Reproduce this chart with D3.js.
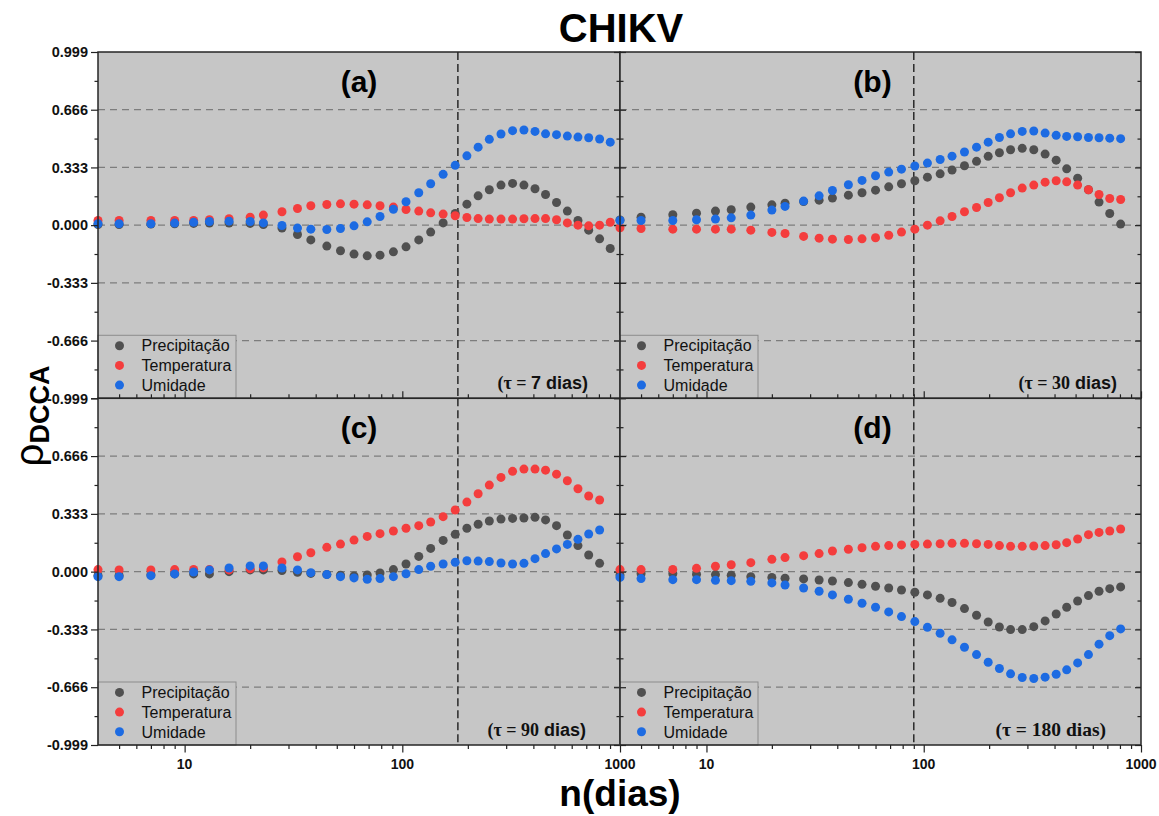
<!DOCTYPE html>
<html>
<head>
<meta charset="utf-8">
<script src="https://cdn.jsdelivr.net/npm/d3@7"></script>
<style>
  body { margin: 0; background: #ffffff; }
  svg { display: block; }
  text { font-family: "Liberation Sans", Arial, Helvetica, sans-serif; }
</style>
</head>
<body>
<svg id="chart" width="1159" height="816"></svg>
<script>
// ---- window sizes n (days) ----
const nDias  = [4, 5, 7, 9, 11, 13, 16, 20, 23, 28, 33, 38, 45, 52, 60, 69, 79, 91, 104, 119,
                135, 154, 175, 198, 223, 251, 284, 321, 362, 407, 455, 511, 573, 641, 718, 806];
const nDiasA = [4, 5, 7, 9, 11, 13, 16, 20, 23, 28, 33, 38, 45, 52, 60, 69, 79, 91, 104, 119,
                135, 154, 175, 198, 223, 251, 284, 321, 362, 407, 455, 511, 573, 641, 718, 806, 902];

// ---- rho_DCCA, tau = 7 days ----
const precipA = [0.004, 0.004, 0.006, 0.008, 0.010, 0.012, 0.012, 0.010, 0.004, -0.017, -0.054, -0.085,
                 -0.121, -0.148, -0.167, -0.177, -0.173, -0.154, -0.125, -0.085, -0.040, 0.013, 0.067,
                 0.121, 0.169, 0.204, 0.231, 0.241, 0.231, 0.210, 0.177, 0.131, 0.081, 0.027, -0.029,
                 -0.079, -0.135];
const tempA   = [0.027, 0.027, 0.027, 0.027, 0.027, 0.031, 0.037, 0.046, 0.058, 0.077, 0.096, 0.112,
                 0.119, 0.123, 0.121, 0.117, 0.112, 0.104, 0.090, 0.081, 0.071, 0.064, 0.054, 0.044,
                 0.038, 0.035, 0.035, 0.035, 0.037, 0.038, 0.038, 0.031, 0.013, 0.000, -0.004, 0.000,
                 0.017];
const umidA   = [0.008, 0.008, 0.008, 0.012, 0.017, 0.021, 0.023, 0.021, 0.013, -0.002, -0.017, -0.023,
                 -0.025, -0.019, -0.004, 0.019, 0.050, 0.092, 0.135, 0.187, 0.239, 0.293, 0.345, 0.400,
                 0.450, 0.495, 0.526, 0.545, 0.549, 0.541, 0.527, 0.522, 0.514, 0.508, 0.504, 0.497,
                 0.479];

// ---- rho_DCCA, tau = 30 days ----
const precipB = [0.030, 0.046, 0.060, 0.069, 0.081, 0.089, 0.104, 0.117, 0.127, 0.136, 0.144, 0.156,
                 0.173, 0.187, 0.202, 0.221, 0.239, 0.256, 0.277, 0.296, 0.318, 0.343, 0.368, 0.397,
                 0.418, 0.435, 0.443, 0.435, 0.410, 0.375, 0.325, 0.271, 0.204, 0.133, 0.067, 0.006];
const tempB   = [-0.015, -0.019, -0.023, -0.023, -0.023, -0.023, -0.029, -0.042, -0.048, -0.065, -0.075,
                 -0.081, -0.083, -0.079, -0.073, -0.058, -0.040, -0.023, 0.000, 0.025, 0.050, 0.077,
                 0.102, 0.131, 0.158, 0.187, 0.214, 0.231, 0.248, 0.256, 0.250, 0.231, 0.204, 0.177,
                 0.154, 0.148];
const umidB   = [0.027, 0.027, 0.027, 0.031, 0.035, 0.042, 0.058, 0.087, 0.108, 0.139, 0.169, 0.200,
                 0.233, 0.258, 0.285, 0.306, 0.323, 0.341, 0.358, 0.379, 0.398, 0.422, 0.450, 0.479,
                 0.506, 0.527, 0.541, 0.543, 0.531, 0.518, 0.512, 0.510, 0.506, 0.504, 0.502, 0.499];

// ---- rho_DCCA, tau = 90 days ----
const precipC = [-0.022, -0.022, -0.018, -0.013, -0.013, -0.013, 0.000, 0.010, 0.010, 0.006, -0.004,
                 -0.010, -0.016, -0.021, -0.025, -0.019, -0.008, 0.012, 0.044, 0.088, 0.134, 0.180,
                 0.215, 0.250, 0.273, 0.292, 0.303, 0.307, 0.309, 0.313, 0.298, 0.265, 0.211, 0.150,
                 0.096, 0.048];
const tempC   = [0.012, 0.010, 0.010, 0.012, 0.013, 0.012, 0.010, 0.017, 0.022, 0.056, 0.086, 0.109,
                 0.140, 0.159, 0.182, 0.203, 0.219, 0.234, 0.250, 0.265, 0.286, 0.317, 0.355, 0.401,
                 0.449, 0.499, 0.543, 0.578, 0.591, 0.591, 0.585, 0.562, 0.524, 0.478, 0.436, 0.413];
const umidC   = [-0.029, -0.029, -0.023, -0.013, -0.002, 0.010, 0.021, 0.033, 0.033, 0.021, 0.010,
                 -0.006, -0.017, -0.029, -0.036, -0.044, -0.040, -0.029, -0.012, 0.012, 0.031, 0.044,
                 0.054, 0.063, 0.061, 0.058, 0.050, 0.044, 0.048, 0.075, 0.104, 0.131, 0.157, 0.186,
                 0.217, 0.240];

// ---- rho_DCCA, tau = 180 days ----
const precipD = [-0.020, -0.012, -0.012, -0.015, -0.017, -0.021, -0.029, -0.033, -0.038, -0.042, -0.048,
                 -0.054, -0.063, -0.073, -0.084, -0.094, -0.106, -0.119, -0.134, -0.154, -0.178, -0.213,
                 -0.251, -0.290, -0.319, -0.334, -0.334, -0.317, -0.284, -0.244, -0.205, -0.169, -0.138,
                 -0.113, -0.098, -0.088];
const tempD   = [0.012, 0.012, 0.013, 0.019, 0.031, 0.040, 0.052, 0.071, 0.081, 0.092, 0.104, 0.119,
                 0.129, 0.138, 0.146, 0.150, 0.154, 0.157, 0.159, 0.161, 0.163, 0.163, 0.161, 0.157,
                 0.150, 0.146, 0.146, 0.148, 0.150, 0.155, 0.167, 0.188, 0.213, 0.226, 0.234, 0.246];
const umidD   = [-0.033, -0.040, -0.046, -0.046, -0.050, -0.052, -0.056, -0.065, -0.077, -0.094, -0.113,
                 -0.134, -0.159, -0.182, -0.205, -0.232, -0.259, -0.288, -0.321, -0.355, -0.393, -0.436,
                 -0.478, -0.522, -0.558, -0.589, -0.610, -0.616, -0.608, -0.591, -0.566, -0.526, -0.478,
                 -0.418, -0.369, -0.330];

// ---- labels and axis ticks ----
const seriesNames = ["Precipitação", "Temperatura", "Umidade"];
const panelLetters = ["(a)", "(b)", "(c)", "(d)"];
const tauValues = ["7", "30", "90", "180"];
const markerLines = [180, 90, 180, 90];
const yTicks = [-0.999, -0.666, -0.333, 0, 0.333, 0.666, 0.999];
const yMinorTicks = [-0.8325, -0.4995, -0.1665, 0.1665, 0.4995, 0.8325];
const xTicks = [10, 100, 1000];
const xDomain = [4, 1000];
const yDomain = [-0.999, 0.999];

// ---- layout ----
const colors = ["#505050", "#f43d3d", "#1d6be2"];
const bg = "#c6c6c6";
const colX = [[98, 620], [620, 1141]];
const rowY = [[52, 398.3], [398.3, 745]];

const svg = d3.select("#chart");
const fmt = v => v.toFixed(3);

const panels = [
  { n: nDiasA, series: [precipA, tempA, umidA], col: 0, row: 0, tauEnd: 588, tauSize: 18, tauSerifNumber: false, tauSerifWord: false },
  { n: nDias,  series: [precipB, tempB, umidB], col: 1, row: 0, tauEnd: 1117, tauSize: 18, tauSerifNumber: true, tauSerifWord: false },
  { n: nDias,  series: [precipC, tempC, umidC], col: 0, row: 1, tauEnd: 586, tauSize: 18, tauSerifNumber: true, tauSerifWord: false },
  { n: nDias,  series: [precipD, tempD, umidD], col: 1, row: 1, tauEnd: 1106, tauSize: 19.5, tauSerifNumber: true, tauSerifWord: true }
];

// minor log ticks inside the domain
const xMinor = [];
for (let dec = 1; dec <= 100; dec *= 10) {
  for (let k = 2; k <= 9; k++) {
    const v = k * dec;
    if (v > xDomain[0] && v < xDomain[1] && !xTicks.includes(v)) xMinor.push(v);
  }
}

const serif = '"Liberation Serif", "Times New Roman", serif';

panels.forEach((p, i) => {
  const [x0, x1] = colX[p.col];
  const [y0, y1] = rowY[p.row];
  const x = d3.scaleLog().domain(xDomain).range([x0, x1]);
  const y = d3.scaleLinear().domain(yDomain).range([y1, y0]);
  const g = svg.append("g");

  g.append("rect").attr("x", x0).attr("y", y0).attr("width", x1 - x0).attr("height", y1 - y0)
    .attr("fill", bg);

  // horizontal dashed grid
  g.selectAll(".grid").data([-0.666, -0.333, 0, 0.333, 0.666]).join("line")
    .attr("x1", x0).attr("x2", x1)
    .attr("y1", d => y(d)).attr("y2", d => y(d))
    .attr("stroke", "#7d7d7d").attr("stroke-width", 1.2).attr("stroke-dasharray", "7,5");

  // vertical reference line
  g.append("line")
    .attr("x1", x(markerLines[i])).attr("x2", x(markerLines[i]))
    .attr("y1", y0).attr("y2", y1)
    .attr("stroke", "#2a2a2a").attr("stroke-width", 1.5).attr("stroke-dasharray", "8,4");

  // scatter series
  p.series.forEach((vals, s) => {
    g.append("g").selectAll("circle").data(vals).join("circle")
      .attr("cx", (d, j) => x(p.n[j]))
      .attr("cy", d => y(d))
      .attr("r", 4.5)
      .attr("fill", colors[s]);
  });

  // panel letter
  g.append("text").attr("x", (x0 + x1) / 2 - (p.col ? 8 : 0)).attr("y", y0 + 40)
    .attr("text-anchor", "middle").attr("font-size", 30).attr("font-weight", "bold")
    .text(panelLetters[i]);

  // legend
  const lg = g.append("g");
  lg.append("rect").attr("x", x0).attr("y", y1 - 63).attr("width", 138).attr("height", 63)
    .attr("fill", bg).attr("stroke", "#8c8c8c").attr("stroke-width", 1);
  seriesNames.forEach((name, s) => {
    const cy = y1 - 52.6 + s * 19.7;
    lg.append("circle").attr("cx", x0 + 21.5).attr("cy", cy).attr("r", 4.5).attr("fill", colors[s]);
    lg.append("text").attr("x", x0 + 43.5).attr("y", cy).attr("dy", "0.36em")
      .attr("font-size", 16).attr("fill", "#111").text(name);
  });

  // tau annotation
  const t = g.append("text").attr("x", p.tauEnd).attr("y", y1 - 9)
    .attr("text-anchor", "end").attr("font-size", p.tauSize).attr("font-weight", "bold").attr("fill", "#111");
  t.append("tspan").attr("font-family", serif).text("(τ = ");
  t.append("tspan").attr("font-family", p.tauSerifNumber ? serif : null).text(tauValues[i]);
  t.append("tspan").attr("font-family", p.tauSerifWord ? serif : null).text(" dias)");

  // y axes: left side
  const leftOut = p.col === 0;
  const yLeft = d3.axisLeft(y).tickValues(yTicks).tickSize(leftOut ? 7 : -6).tickFormat("");
  const yLeftMinor = d3.axisLeft(y).tickValues(yMinorTicks).tickSize(leftOut ? 3.5 : -3.5).tickFormat("");
  g.append("g").attr("transform", `translate(${x0},0)`).call(yLeft).call(a => a.select(".domain").remove());
  g.append("g").attr("transform", `translate(${x0},0)`).call(yLeftMinor).call(a => a.select(".domain").remove());
  // right side, ticks inward
  g.append("g").attr("transform", `translate(${x1},0)`)
    .call(d3.axisRight(y).tickValues(yTicks).tickSize(-6).tickFormat(""))
    .call(a => a.select(".domain").remove());
  g.append("g").attr("transform", `translate(${x1},0)`)
    .call(d3.axisRight(y).tickValues(yMinorTicks).tickSize(-3.5).tickFormat(""))
    .call(a => a.select(".domain").remove());

  // x axis at bottom: outward on lower row, inward on upper row
  const out = p.row === 1;
  g.append("g").attr("transform", `translate(0,${y1})`)
    .call(d3.axisBottom(x).tickValues(xTicks).tickSize(out ? 7.5 : -7).tickFormat(""))
    .call(a => a.select(".domain").remove());
  g.append("g").attr("transform", `translate(0,${y1})`)
    .call(d3.axisBottom(x).tickValues(xMinor).tickSize(out ? 4 : -4).tickFormat(""))
    .call(a => a.select(".domain").remove());

  g.selectAll(".tick line").attr("stroke", "#222").attr("stroke-width", 1.2);

  // frame
  g.append("rect").attr("x", x0).attr("y", y0).attr("width", x1 - x0).attr("height", y1 - y0)
    .attr("fill", "none").attr("stroke", "#262626").attr("stroke-width", 1.5);

  // y tick labels (left column only)
  if (p.col === 0) {
    const labels = p.row === 0 ? yTicks : yTicks.filter(v => v < 0.999);
    g.selectAll(".ylab").data(labels).join("text")
      .attr("x", 88).attr("y", d => y(d)).attr("dy", "0.36em")
      .attr("text-anchor", "end").attr("font-size", 14.5).attr("font-weight", "bold").attr("fill", "#111")
      .text(fmt);
  }
  // x tick labels (bottom row only)
  if (p.row === 1) {
    g.selectAll(".xlab").data(xTicks).join("text")
      .attr("x", d => x(d)).attr("y", 769)
      .attr("text-anchor", "middle").attr("font-size", 14).attr("font-weight", "bold").attr("fill", "#111")
      .text(d => String(d));
  }
});

// titles
svg.append("text").attr("x", 621).attr("y", 42).attr("text-anchor", "middle")
  .attr("font-size", 40).attr("font-weight", "bold").attr("fill", "#000").text("CHIKV");

svg.append("text").attr("x", 620).attr("y", 806).attr("text-anchor", "middle")
  .attr("font-size", 37).attr("font-weight", "bold").attr("fill", "#000").text("n(dias)");

const yt = svg.append("text").attr("transform", "translate(43,416) rotate(-90)")
  .attr("text-anchor", "middle").attr("fill", "#000");
yt.append("tspan").attr("font-size", 40).text("ρ");
yt.append("tspan").attr("font-size", 27).attr("font-weight", "bold").attr("dy", 6).text("DCCA");
</script>
</body>
</html>
